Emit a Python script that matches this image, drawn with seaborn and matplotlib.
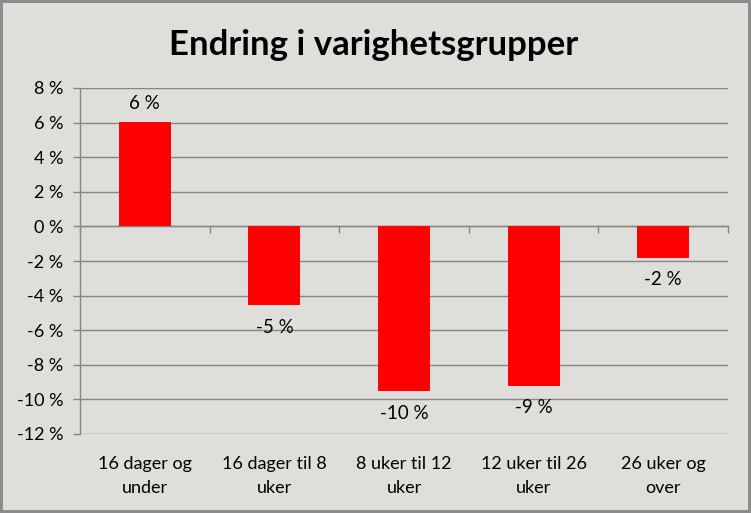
import matplotlib
matplotlib.use("Agg")
import matplotlib.pyplot as plt
import seaborn as sns
import pandas as pd
from matplotlib.ticker import FuncFormatter, FixedLocator

categories = ["16 dager og\nunder", "16 dager til 8\nuker", "8 uker til 12\nuker",
              "12 uker til 26\nuker", "26 uker og\nover"]
values = [6.05, -4.55, -9.5, -9.2, -1.8]
labels = ["6 %", "-5 %", "-10 %", "-9 %", "-2 %"]
yticks = [8, 6, 4, 2, 0, -2, -4, -6, -8, -10, -12]
title = "Endring i varighetsgrupper"

sns.set_theme(style="white")
plt.rcParams["font.family"] = ["Lato", "DejaVu Sans"]
plt.rcParams["text.color"] = "black"

bg = "#DFDEDA"
grid_c = "#868686"
W, H = 751, 513
fig = plt.figure(figsize=(W / 100, H / 100), dpi=100, facecolor=bg,
                 edgecolor="#8C8C8C", linewidth=4.3)
ax = fig.add_axes([80 / W, 1 - 434 / H, (728 - 80) / W, (434 - 88) / H])
ax.set_facecolor(bg)

df = pd.DataFrame({"cat": categories, "val": values})
sns.barplot(data=df, x="cat", y="val", color="#FF0000", width=0.4,
            saturation=1, linewidth=0, ax=ax, zorder=3)

ax.set_ylim(-12, 8)
ax.set_xlim(-0.5, len(categories) - 0.5)
ax.yaxis.set_major_locator(FixedLocator(yticks))
ax.yaxis.set_major_formatter(FuncFormatter(lambda v, p: f"{int(round(v))} %"))
ax.grid(axis="y", color=grid_c, linewidth=1, zorder=0)
ax.set_axisbelow(True)
for s in ["top", "right", "bottom"]:
    ax.spines[s].set_visible(False)
ax.spines["left"].set_color(grid_c)
ax.spines["left"].set_linewidth(1)
ax.tick_params(axis="y", direction="out", length=5, width=1, color=grid_c,
               pad=7, labelsize=13, labelcolor="black", left=True)
ax.tick_params(axis="x", length=0, pad=15.5, labelsize=13, labelcolor="black")
ax.set_xlabel("")
ax.set_ylabel("")
for t in ax.get_xticklabels():
    t.set_linespacing(1.65)

# category boundary ticks on the zero line
frac = (0 - ax.get_ylim()[0]) / (ax.get_ylim()[1] - ax.get_ylim()[0])
sec = ax.secondary_xaxis(frac)
sec.set_alignment("bottom")
sec.set_xticks([i - 0.5 for i in range(len(categories) + 1)])
sec.tick_params(direction="out", length=5, width=1, color=grid_c,
                labelbottom=False, labeltop=False)
for s in sec.spines.values():
    s.set_color(grid_c)
    s.set_linewidth(1)

for patch, lab, v in zip(ax.patches, labels, values):
    cx = patch.get_x() + patch.get_width() / 2
    if v >= 0:
        ax.annotate(lab, (cx, v), xytext=(0, 7), textcoords="offset points",
                    ha="center", va="bottom", fontsize=13.5, color="black")
    else:
        ax.annotate(lab, (cx, v), xytext=(0, -10), textcoords="offset points",
                    ha="center", va="top", fontsize=13.5, color="black")

fig.text(0.497, 1 - 45 / H, title, ha="center", va="center",
         fontsize=25, fontweight="bold", color="black")

fig.savefig("out.png", dpi=100, facecolor=fig.get_facecolor(),
            edgecolor=fig.get_edgecolor())
